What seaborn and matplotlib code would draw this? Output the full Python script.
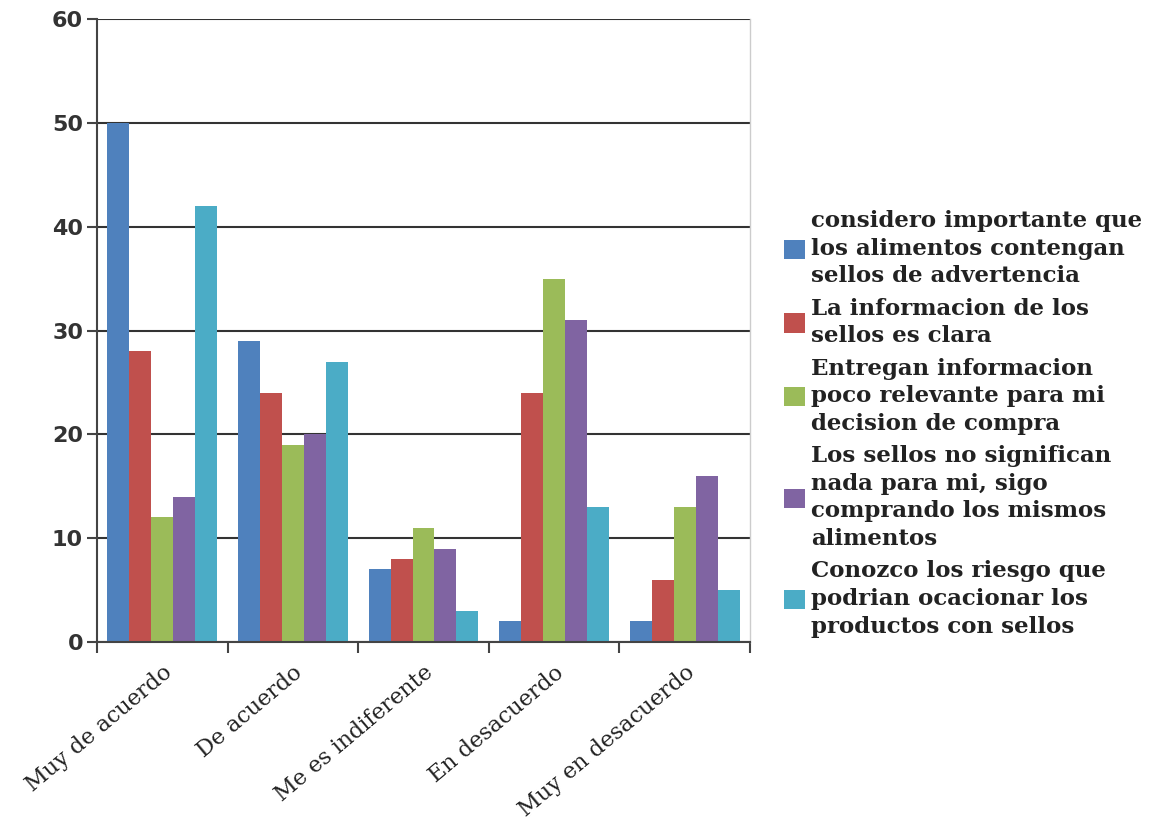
import matplotlib
matplotlib.use("Agg")
import matplotlib.pyplot as plt
import seaborn as sns
import pandas as pd
import numpy as np

categories = ["Muy de acuerdo", "De acuerdo", "Me es indiferente", "En desacuerdo", "Muy en desacuerdo"]
series_names = [
    "considero importante que\nlos alimentos contengan\nsellos de advertencia",
    "La informacion de los\nsellos es clara",
    "Entregan informacion\npoco relevante para mi\ndecision de compra",
    "Los sellos no significan\nnada para mi, sigo\ncomprando los mismos\nalimentos",
    "Conozco los riesgo que\npodrian ocacionar los\nproductos con sellos",
]
s1 = [50, 29, 7, 2, 2]
s2 = [28, 24, 8, 24, 6]
s3 = [12, 19, 11, 35, 13]
s4 = [14, 20, 9, 31, 16]
s5 = [42, 27, 3, 13, 5]
colors = ["#4F81BD", "#C0504D", "#9BBB59", "#8064A2", "#4BACC6"]
yticks = [0, 10, 20, 30, 40, 50, 60]

rows = []
for name, vals in zip(series_names, [s1, s2, s3, s4, s5]):
    for c, v in zip(categories, vals):
        rows.append({"cat": c, "serie": name, "val": v})
df = pd.DataFrame(rows)

sns.set_theme(style="white")
fig = plt.figure(figsize=(11.53, 8.23), dpi=100)
ax = fig.add_axes([0.0841, 0.2199, 0.5664, 0.757])

sns.barplot(data=df, x="cat", y="val", hue="serie", order=categories,
            hue_order=series_names, palette=colors, width=0.84,
            saturation=1, ax=ax, edgecolor="none", linewidth=0)

ax.set_ylim(0, 60)
ax.set_xlim(-0.5, len(categories) - 0.5)
ax.set_yticks(yticks)
ax.set_yticklabels([str(t) for t in yticks], fontsize=16, fontweight="bold",
                   color="#333333", family="DejaVu Sans")
ax.yaxis.grid(True, color="#333333", linewidth=1.5)
ax.set_axisbelow(True)
ax.set_xlabel("")
ax.set_ylabel("")

ax.set_xticks(range(len(categories)))
ax.set_xticklabels(categories, rotation=40, ha="right", rotation_mode="anchor",
                   fontsize=16, family="DejaVu Serif", color="#222222")
ax.set_xticks(np.arange(-0.5, len(categories)), minor=True)
ax.tick_params(axis="x", which="major", bottom=True, length=0, pad=14)
ax.tick_params(axis="x", which="minor", bottom=True, length=8, width=1.5, color="#444444", direction="out")
ax.tick_params(axis="y", which="major", left=True, length=7, width=1.5, color="#444444", direction="out", pad=3)

for side in ["left", "bottom"]:
    ax.spines[side].set_color("#444444")
    ax.spines[side].set_linewidth(1.5)
ax.spines["top"].set_visible(False)
ax.spines["right"].set_color("#cccccc")
ax.spines["right"].set_linewidth(1.0)

handles, labels = ax.get_legend_handles_labels()
ax.legend_.remove()
leg = fig.legend(handles, labels, loc="center left", bbox_to_anchor=(0.672, 0.485),
                 frameon=False, prop={"family": "DejaVu Serif", "weight": "bold", "size": 16.5},
                 handlelength=0.92, handleheight=0.92, handletextpad=0.25, labelspacing=0.45,
                 borderaxespad=0)
for t in leg.get_texts():
    t.set_color("#222222")
    t.set_linespacing(1.33)

fig.savefig("out.png", dpi=100)
